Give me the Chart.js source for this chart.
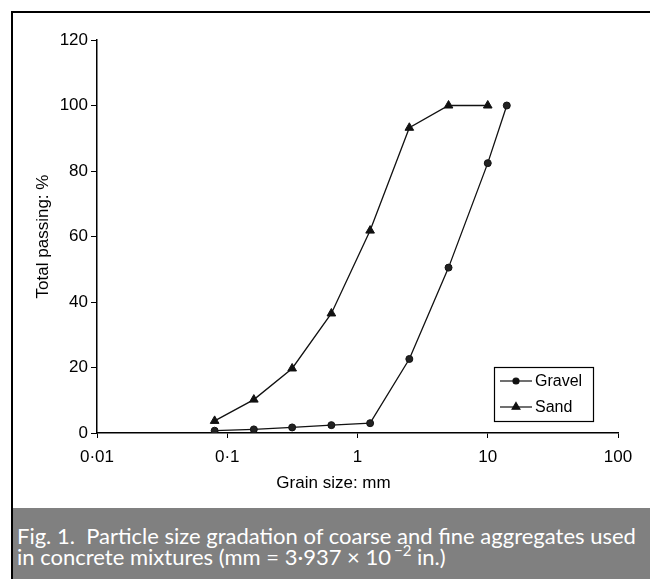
<!DOCTYPE html>
<html>
<head>
<meta charset="utf-8">
<script src="https://cdn.jsdelivr.net/npm/chart.js@4/dist/chart.umd.min.js"></script>
<style>
  html, body { margin: 0; padding: 0; background: #fff; width: 650px; height: 579px; overflow: hidden; }
  #frame { position: absolute; left: 11px; top: 11px; width: 700px; height: 620px;
           border-top: 2px solid #000; border-left: 2px solid #000; }
  #wrap { position: absolute; left: 13px; top: 13px; width: 637px; height: 495px; }
  #caption { position: absolute; left: 13px; top: 508px; width: 637px; height: 71px;
             background: #808080; color: #fff; box-sizing: border-box; padding: 17px 0 0 4px;
             font-family: Lato, "Open Sans", sans-serif; font-size: 22px; line-height: 21px; white-space: nowrap; }
  #caption sup { font-size: 15px; line-height: 0; vertical-align: 9px; margin-left: 3px; }
</style>
</head>
<body>
<div id="frame"></div>
<div id="wrap"><canvas id="chart" width="637" height="495"></canvas></div>
<div id="caption">Fig. 1.&nbsp; Particle size gradation of coarse and fine aggregates used<br>in concrete mixtures (mm = 3·937 × 10<sup>−2</sup> in.)</div>
<script>
  // ── 데이터 ──────────────────────────────────────────────────────────
  const gravelSize = [0.08, 0.16, 0.315, 0.63, 1.25, 2.5, 5, 10, 14];
  const gravelPass = [0.7, 1.1, 1.7, 2.4, 3.0, 22.6, 50.5, 82.4, 100];
  const sandSize = [0.08, 0.16, 0.315, 0.63, 1.25, 2.5, 5, 10];
  const sandPass = [3.7, 10.2, 19.7, 36.5, 61.8, 93.2, 100, 100];
  const xTicks = [0.01, 0.1, 1, 10, 100];
  const yTicks = [0, 20, 40, 60, 80, 100, 120];
  const xTitle = 'Grain size: mm';

  const pts = (xs, ys) => xs.map((x, i) => ({ x: x, y: ys[i] }));
  const FONT = { family: '"Liberation Sans", Arial, sans-serif', size: 17 };

  // 범례 박스 + x축 제목 (엑셀처럼 약간 왼쪽으로 치우침)
  const boxLegend = {
    id: 'boxLegend',
    afterDraw(chart) {
      const { ctx, chartArea } = chart;
      const w = 99, h = 54;
      const x0 = chartArea.right - 25 - w, y0 = chartArea.bottom - 12 - h;
      ctx.save();
      ctx.fillStyle = '#fff';
      ctx.fillRect(x0, y0, w, h);
      ctx.strokeStyle = '#000';
      ctx.lineWidth = 1.2;
      ctx.strokeRect(x0 + 0.5, y0 + 0.5, w, h);
      chart.data.datasets.forEach((ds, i) => {
        const cy = y0 + 14 + i * 26;
        ctx.strokeStyle = '#111';
        ctx.lineWidth = 1.2;
        ctx.beginPath();
        ctx.moveTo(x0 + 6, cy);
        ctx.lineTo(x0 + 38, cy);
        ctx.stroke();
        ctx.fillStyle = '#111';
        Chart.helpers.drawPoint(ctx, { pointStyle: ds.pointStyle, radius: ds.pointRadius - 0.5, borderWidth: 1 }, x0 + 22, cy);
        ctx.fillStyle = '#000';
        ctx.font = '16px "Liberation Sans", Arial, sans-serif';
        ctx.textBaseline = 'middle';
        ctx.fillText(ds.label, x0 + 41, cy + 1);
      });
      ctx.font = '17px "Liberation Sans", Arial, sans-serif';
      ctx.textAlign = 'center';
      ctx.fillText(xTitle, (chartArea.left + chartArea.right) / 2 - 24, chartArea.bottom + 50);
      ctx.restore();
    }
  };

  new Chart(document.getElementById('chart'), {
    type: 'line',
    data: {
      datasets: [
        {
          label: 'Gravel', data: pts(gravelSize, gravelPass),
          borderColor: '#111', backgroundColor: '#222', borderWidth: 1.3,
          pointStyle: 'circle', pointRadius: 3.5, pointBorderWidth: 1, tension: 0
        },
        {
          label: 'Sand', data: pts(sandSize, sandPass),
          borderColor: '#111', backgroundColor: '#111', borderWidth: 1.3,
          pointStyle: 'triangle', pointRadius: 5, pointBorderWidth: 1, tension: 0
        }
      ]
    },
    options: {
      responsive: false,
      animation: false,
      layout: { padding: { left: 20, right: 32, top: 27, bottom: 12 } },
      plugins: { legend: { display: false }, tooltip: { enabled: false } },
      scales: {
        x: {
          type: 'logarithmic', min: 0.01, max: 100,
          afterBuildTicks: (s) => { s.ticks = xTicks.map(v => ({ value: v })); },
          afterFit: (s) => { s.height = 63; },
          ticks: { color: '#000', font: FONT, padding: 9, maxRotation: 0,
                   callback: (v) => String(v).replace('.', '·') },
          grid: { display: true, drawOnChartArea: false, drawTicks: true, tickLength: 5, color: '#000', lineWidth: 1 },
          border: { display: true, color: '#000', width: 1.5 },
          title: { display: false }
        },
        y: {
          min: 0, max: 120,
          afterBuildTicks: (s) => { s.ticks = yTicks.map(v => ({ value: v })); },
          afterFit: (s) => { s.width = 64; },
          ticks: { color: '#000', font: FONT, padding: 3 },
          grid: { display: true, drawOnChartArea: false, drawTicks: true, tickLength: 6, color: '#000', lineWidth: 1 },
          border: { display: true, color: '#000', width: 1.5 },
          title: { display: true, text: 'Total passing: %', color: '#000', font: FONT, padding: 0 }
        }
      }
    },
    plugins: [boxLegend]
  });
</script>
</body>
</html>
